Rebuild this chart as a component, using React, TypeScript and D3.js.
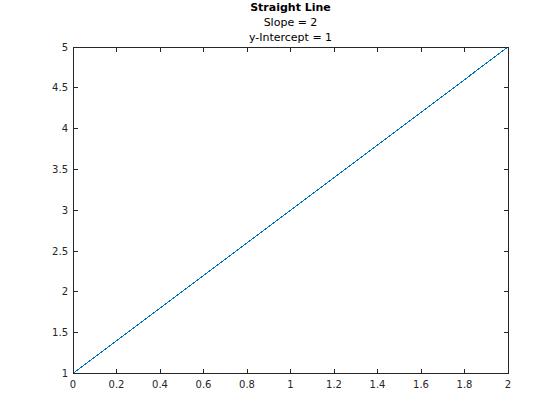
import React from "react";
import * as d3 from "d3";

const xValues = [0, 2];
const yValues = [1, 5];
const xTicks = [0, 0.2, 0.4, 0.6, 0.8, 1, 1.2, 1.4, 1.6, 1.8, 2];
const yTicks = [1, 1.5, 2, 2.5, 3, 3.5, 4, 4.5, 5];
const titleLines = ["Straight Line", "Slope = 2", "y-Intercept = 1"];

const W = 560, H = 420;
const L = 73, R = 508, T = 47, B = 373.5;
const axisColor = "#262626";
const font = "DejaVu Sans, sans-serif";

export default function App() {
  const x = d3.scaleLinear().domain([0, 2]).range([L, R]);
  const y = d3.scaleLinear().domain([1, 5]).range([B, T]);
  const pts: [number, number][] = xValues.map((v, i) => [v, yValues[i]]);
  const line = d3.line<[number, number]>().x(d => x(d[0])).y(d => y(d[1]));
  const tl = 4.5;
  return (
    <svg width={W} height={H} style={{ position: "absolute", left: 0, top: 0, background: "#fff" }} fontFamily={font}>
      <rect x={0} y={0} width={W} height={H} fill="#fff" />
      <rect x={L} y={T} width={R - L} height={B - T} fill="#fff" />
      <path d={line(pts) || ""} fill="none" stroke="#0072BD" strokeWidth={1} shapeRendering="crispEdges" />
      <g stroke={axisColor} strokeWidth={1} shapeRendering="crispEdges">
        <rect x={L} y={T} width={R - L} height={B - T} fill="none" />
        {xTicks.map(t => (
          <g key={"x" + t}>
            <line x1={x(t)} x2={x(t)} y1={B} y2={B - tl} />
            <line x1={x(t)} x2={x(t)} y1={T} y2={T + tl} />
          </g>
        ))}
        {yTicks.map(t => (
          <g key={"y" + t}>
            <line x1={L} x2={L + tl} y1={y(t)} y2={y(t)} />
            <line x1={R} x2={R - tl} y1={y(t)} y2={y(t)} />
          </g>
        ))}
      </g>
      <g fill={axisColor} fontSize={10}>
        {xTicks.map(t => (
          <text key={"xl" + t} x={x(t)} y={B + 14} textAnchor="middle">{String(t)}</text>
        ))}
        {yTicks.map(t => (
          <text key={"yl" + t} x={L - 5} y={y(t) + 3.5} textAnchor="end">{String(t)}</text>
        ))}
      </g>
      <g fill="#000" fontSize={11} textAnchor="middle">
        {titleLines.map((s, i) => (
          <text key={s} x={(L + R) / 2} y={11 + i * 15} fontWeight={i === 0 ? "bold" : "normal"}>{s}</text>
        ))}
      </g>
    </svg>
  );
}
